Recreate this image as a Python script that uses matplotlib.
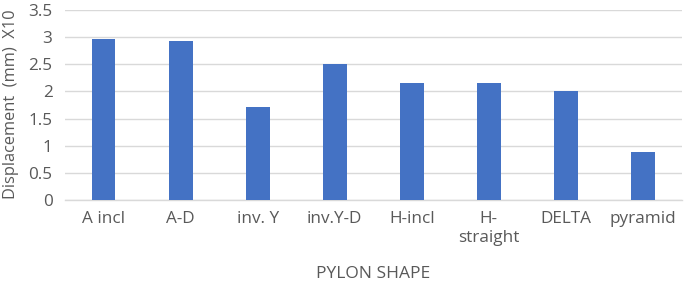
import matplotlib
matplotlib.use("Agg")
import matplotlib.pyplot as plt

categories = ["A incl", "A-D", "inv. Y", "inv.Y-D", "H-incl", "H-\nstraight", "DELTA", "pyramid"]
values = [2.97, 2.92, 1.72, 2.50, 2.15, 2.155, 2.00, 0.89]
yticks = [0, 0.5, 1, 1.5, 2, 2.5, 3, 3.5]
ytick_labels = ["0", "0.5", "1", "1.5", "2", "2.5", "3", "3.5"]

plt.rcParams['font.family'] = ['Open Sans', 'DejaVu Sans']
text_color = "#595959"

fig = plt.figure(figsize=(6.85, 2.82), dpi=100)
ax = fig.add_axes([65/685, 82/282, 616.5/685, 190/282])

x = range(len(categories))
ax.bar(x, values, width=0.31, color="#4472C4", zorder=3)

ax.set_xlim(-0.5, len(categories) - 0.5)
ax.set_ylim(0, 3.5)
ax.set_yticks(yticks)
ax.set_yticklabels(ytick_labels)
ax.set_xticks(list(x))
ax.set_xticklabels(categories, linespacing=1.2)

ax.grid(axis="y", color="#D9D9D9", linewidth=1, zorder=0)
for s in ["top", "right", "left"]:
    ax.spines[s].set_visible(False)
ax.spines["bottom"].set_color("#D9D9D9")
ax.spines["bottom"].set_linewidth(1)
ax.tick_params(axis="both", length=0, colors=text_color, labelsize=12.3)
ax.tick_params(axis="x", pad=8)
ax.tick_params(axis="y", pad=9)

fig.text(11/685, 1 - 104/282, "Displacement  (mm)  X10", color=text_color,
         fontsize=11.8, rotation=90, ha="center", va="center")
ax.set_xlabel("PYLON SHAPE", color=text_color, fontsize=12.5, labelpad=15)

fig.savefig("out.png", dpi=100)
